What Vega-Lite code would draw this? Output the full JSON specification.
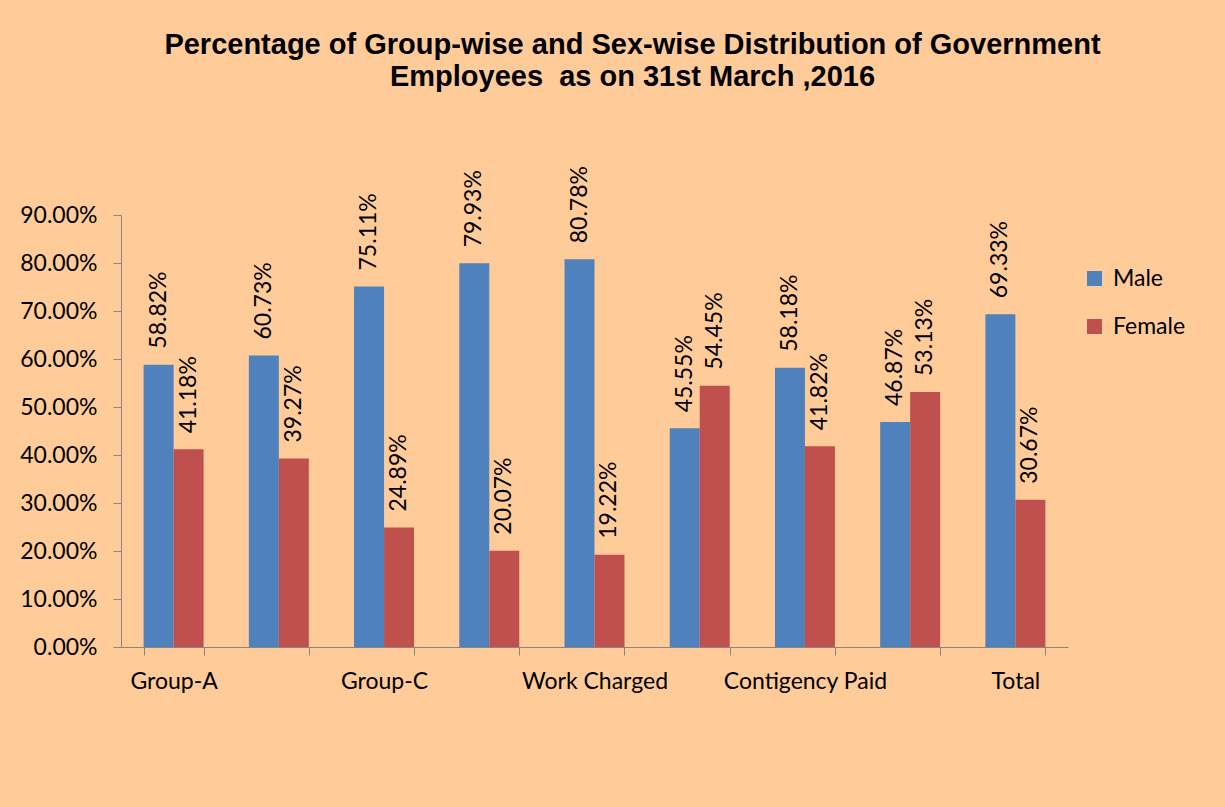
{
  "$schema": "https://vega.github.io/schema/vega-lite/v6.json",
  "width": 947,
  "height": 432,
  "autosize": {"type": "none"},
  "padding": {"left": 121, "top": 215, "right": 157, "bottom": 160},
  "background": "#FFCC99",
  "title": {
    "text": ["Percentage of Group-wise and Sex-wise Distribution of Government", "Employees \u00a0as on 31st March ,2016"],
    "font": "Liberation Sans",
    "fontWeight": "bold",
    "fontSize": 29,
    "lineHeight": 32,
    "anchor": "middle",
    "frame": "group",
    "dx": 38,
    "offset": 74,
    "color": "black"
  },
  "config": {"view": {"stroke": null}, "font": "Lato"},
  "data": {
    "values": [
      {"Category": "Group-A", "Sex": "Male", "Share": 0.5882},
      {"Category": "Group-A", "Sex": "Female", "Share": 0.4118},
      {"Category": "Group-B", "Sex": "Male", "Share": 0.6073},
      {"Category": "Group-B", "Sex": "Female", "Share": 0.3927},
      {"Category": "Group-C", "Sex": "Male", "Share": 0.7511},
      {"Category": "Group-C", "Sex": "Female", "Share": 0.2489},
      {"Category": "Group-D", "Sex": "Male", "Share": 0.7993},
      {"Category": "Group-D", "Sex": "Female", "Share": 0.2007},
      {"Category": "Work Charged", "Sex": "Male", "Share": 0.8078},
      {"Category": "Work Charged", "Sex": "Female", "Share": 0.1922},
      {"Category": "Fixed Pay", "Sex": "Male", "Share": 0.4555},
      {"Category": "Fixed Pay", "Sex": "Female", "Share": 0.5445},
      {"Category": "Contigency Paid", "Sex": "Male", "Share": 0.5818},
      {"Category": "Contigency Paid", "Sex": "Female", "Share": 0.4182},
      {"Category": "Others", "Sex": "Male", "Share": 0.4687},
      {"Category": "Others", "Sex": "Female", "Share": 0.5313},
      {"Category": "Total", "Sex": "Male", "Share": 0.6933},
      {"Category": "Total", "Sex": "Female", "Share": 0.3067}
    ]
  },
  "encoding": {
    "x": {
      "field": "Category",
      "type": "nominal",
      "sort": null,
      "scale": {"paddingInner": 0.43, "paddingOuter": 0.215},
      "axis": {
        "title": null,
        "labelAngle": 0,
        "tickBand": "extent",
        "tickSize": 8,
        "domainColor": "#868686",
        "tickColor": "#868686",
        "labelFont": "Lato",
        "labelFontSize": 23,
        "labelColor": "black",
        "labelPadding": 15,
        "labelExpr": "indexof(['Group-A','Group-C','Work Charged','Contigency Paid','Total'], datum.value) >= 0 ? datum.label : ''"
      }
    },
    "xOffset": {"field": "Sex", "type": "nominal", "sort": ["Male", "Female"], "scale": {"paddingInner": 0, "paddingOuter": 0}},
    "y": {
      "field": "Share",
      "type": "quantitative",
      "scale": {"domain": [0, 0.9]},
      "axis": {
        "title": null,
        "grid": false,
        "values": [0, 0.1, 0.2, 0.3, 0.4, 0.5, 0.6, 0.7, 0.8, 0.9],
        "format": ".2%",
        "tickSize": 8,
        "domainColor": "#868686",
        "tickColor": "#868686",
        "labelFont": "Lato",
        "labelFontSize": 23,
        "labelColor": "black",
        "labelPadding": 16
      }
    }
  },
  "layer": [
    {
      "mark": {"type": "bar"},
      "encoding": {
        "color": {
          "field": "Sex",
          "type": "nominal",
          "scale": {"domain": ["Male", "Female"], "range": ["#4F81BD", "#C0504D"]},
          "legend": {
            "title": null,
            "orient": "none",
            "legendX": 962,
            "legendY": 52,
            "padding": 0,
            "symbolType": "square",
            "symbolSize": 225,
            "symbolStrokeWidth": 0,
            "labelFont": "Lato",
            "labelFontSize": 23,
            "labelColor": "black",
            "labelOffset": 7,
            "rowPadding": 24
          }
        }
      }
    },
    {
      "mark": {"type": "text", "angle": 270, "align": "left", "baseline": "middle", "dx": 16, "font": "Lato", "fontSize": 23, "color": "black"},
      "encoding": {
        "text": {"field": "Share", "type": "quantitative", "format": ".2%"}
      }
    }
  ]
}
